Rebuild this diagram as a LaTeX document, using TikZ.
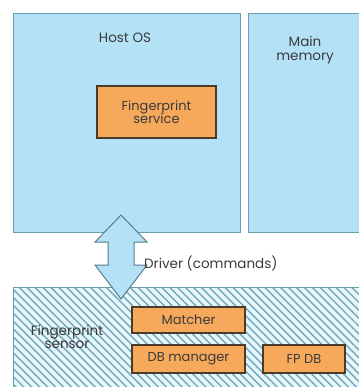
\documentclass[tikz,border=0pt]{standalone}
\usepackage{fontspec}
\setmainfont{Poppins}
\usetikzlibrary{patterns.meta}
\definecolor{paleblue}{HTML}{B4E1F5}
\definecolor{edgeblue}{HTML}{6A9EAF}
\definecolor{hatchblue}{HTML}{6EA9BA}
\definecolor{hatchbg}{HTML}{E8F5FB}
\definecolor{orangefill}{HTML}{F7A95B}
\definecolor{orangeedge}{HTML}{4A3A2A}
\definecolor{inktext}{HTML}{3A3A3A}
\tikzset{
  panel/.style={draw=edgeblue, fill=paleblue, line width=0.9pt},
  block/.style={draw=orangeedge, fill=orangefill, line width=1.1pt,
    text=inktext, font=\fontsize{13}{15}\selectfont, align=center, inner sep=0pt},
  label/.style={text=inktext, font=\fontsize{13.5}{15.5}\selectfont, align=center, inner sep=0pt},
}
\begin{document}
\begin{tikzpicture}[x=1pt, y=-1pt]
\useasboundingbox (0,0) rectangle (358,387);
% host side panels
\draw[panel] (13,13) rectangle (240,232);
\draw[panel] (248,13) rectangle (362,232);
% sensor area, hatched
\fill[hatchbg] (13,287) rectangle (362,391);
\fill[pattern={Lines[angle=-45, distance=5.6pt, line width=1.4pt]}, pattern color=hatchblue]
  (13,287) rectangle (362,391);
\draw[edgeblue, line width=0.9pt] (13,391) -- (13,287) -- (362,287);
% labels
\node[label] (host) at (125,38) {Host OS};
\node[label] (mem) at (305,50) {Main\\[-2pt]memory};
\node[label] (sensor) at (67,337) {Fingerprint\\[-2pt]sensor};
% blocks
\node[block, minimum width=119pt, minimum height=52pt] (svc) at (156.5,112) {Fingerprint\\[-2pt]service};
\node[block, minimum width=113pt, minimum height=26pt] (match) at (188.5,320) {Matcher};
\node[block, minimum width=113pt, minimum height=28pt] (dbm) at (188.5,359) {DB manager};
\node[block, minimum width=82pt, minimum height=28pt] (fpdb) at (304,359) {FP DB};
% driver double arrow
\coordinate (top) at (121,215);
\coordinate (bot) at (121,299);
\draw[draw=edgeblue!80!black, fill=paleblue, line width=1pt, line join=miter]
  (top) -- ++(-26,27) -- ++(13,0) -- ++(0,23) -- ++(-13,0) -- (bot)
  -- ++(26,-34) -- ++(-13,0) -- ++(0,-23) -- ++(13,0) -- cycle;
\node[label, anchor=west] (drv) at (144,263) {Driver (commands)};
\end{tikzpicture}
\end{document}
